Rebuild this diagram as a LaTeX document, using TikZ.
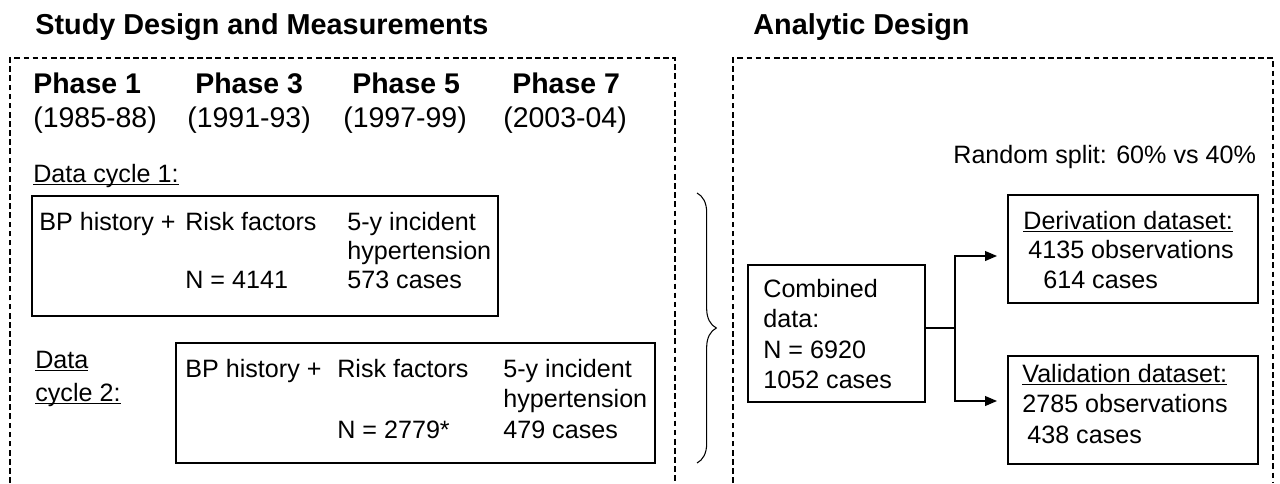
\documentclass[tikz,border=0pt]{standalone}
\usepackage{fontspec}
\setmainfont{Liberation Sans}
\usetikzlibrary{arrows.meta,decorations.pathreplacing}
\newcommand{\uln}[1]{\underline{\smash{#1}}}

\begin{document}
\begin{tikzpicture}[x=0.02cm,y=-0.02cm]
      \useasboundingbox (0,0) rectangle (1280,483);
      \tikzstyle{txt}=[inner sep=0pt,anchor=base west,font=\fontsize{14.3}{17}\selectfont]
      \tikzstyle{head}=[inner sep=0pt,anchor=base west,font=\fontsize{16.4}{19}\selectfont\bfseries]
      \tikzstyle{yr}=[inner sep=0pt,anchor=base west,font=\fontsize{16.2}{19}\selectfont]
      \tikzstyle{box}=[draw,line width=0.8pt,inner sep=0pt]
      \tikzstyle{frame}=[line width=0.6pt,dash pattern=on 3.2pt off 2pt]
      \tikzstyle{arr}=[line width=0.8pt,-{Triangle[length=6.8pt,width=5.6pt]}]
      % titles and frames
      \node [head] (tstudy) at (35,35) {Study Design and Measurements};
      \node [head] (tanalytic) at (753,35) {Analytic Design};
      \draw [frame] (10,483) -- (10,58) -- (675,58) -- (675,483);
      \draw [frame] (733,483) -- (733,58) -- (1273,58) -- (1273,483);
      % phases
      \foreach \i/\px/\yx/\yrs in {1/33/33/1985-88, 3/195/187/1991-93, 5/352/343/1997-99, 7/512/503/2003-04} {
        \node [head,font=\fontsize{16.2}{19}\selectfont\bfseries] (ph\i) at (\px,93) {Phase \i};
        \node [yr] (yr\i) at (\yx,127) {(\yrs)};
      }
      % data cycle 1
      \node [txt] (cyc1) at (33,182) {\uln{Data cycle 1:}};
      \node [box,minimum width=9.32cm,minimum height=2.4cm] (box1) at (265,256) {};
      \node [txt] (bp1) at (39,230) {BP history +};
      \node [txt] (rf1) at (185,230) {Risk factors};
      \node [txt] (n1) at (185,288) {N = 4141};
      \node [txt] (inc1) at (347,230) {5-y incident};
      \node [txt] (hyp1) at (347,259) {hypertension};
      \node [txt] (cas1) at (347,288) {573 cases};
      % data cycle 2
      \node [txt] (cyc2a) at (35,368) {\uln{Data}};
      \node [txt] (cyc2b) at (35,401) {\uln{cycle 2:}};
      \node [box,minimum width=9.58cm,minimum height=2.4cm] (box2) at (415.5,403) {};
      \node [txt] (bp2) at (185,377) {BP history +};
      \node [txt] (rf2) at (337,377) {Risk factors};
      \node [txt] (n2) at (337,438) {N = 2779*};
      \node [txt] (inc2) at (503,377) {5-y incident};
      \node [txt] (hyp2) at (503,407.5) {hypertension};
      \node [txt] (cas2) at (503,438) {479 cases};
      \draw [line width=0.6pt,decorate,decoration={brace,amplitude=11pt}] (697,193) -- (697,463);
      % analytic design
      \node [txt] (rsplit) at (953,163) {Random split: 60\% vs 40\%};
      \node [box,minimum width=3.54cm,minimum height=2.74cm] (comb) at (836.5,333.5) {};
      \node [txt] (comb1) at (763,297) {Combined};
      \node [txt] (comb2) at (763,327) {data:};
      \node [txt] (comb3) at (763,358) {N = 6920};
      \node [txt] (comb4) at (763,388) {1052 cases};
      \node [box,minimum width=5cm,minimum height=2.16cm] (der) at (1133,249) {};
      \node [txt] (der1) at (1023,229) {\uln{Derivation dataset:}};
      \node [txt] (der2) at (1028,258) {4135 observations};
      \node [txt] (der3) at (1043,288) {614 cases};
      \node [box,minimum width=5cm,minimum height=2.16cm] (val) at (1133,410) {};
      \node [txt] (val1) at (1022,382) {\uln{Validation dataset:}};
      \node [txt] (val2) at (1022,412) {2785 observations};
      \node [txt] (val3) at (1027,443) {438 cases};
      \coordinate (fork) at (955,328);
      \coordinate (dertip) at (997,256);
      \coordinate (valtip) at (997,401);
      \draw [line width=0.8pt] (fork -| comb.east) -- (fork);
      \draw [arr] (fork) |- (dertip);
      \draw [arr] (fork) |- (valtip);
\end{tikzpicture}
\end{document}
